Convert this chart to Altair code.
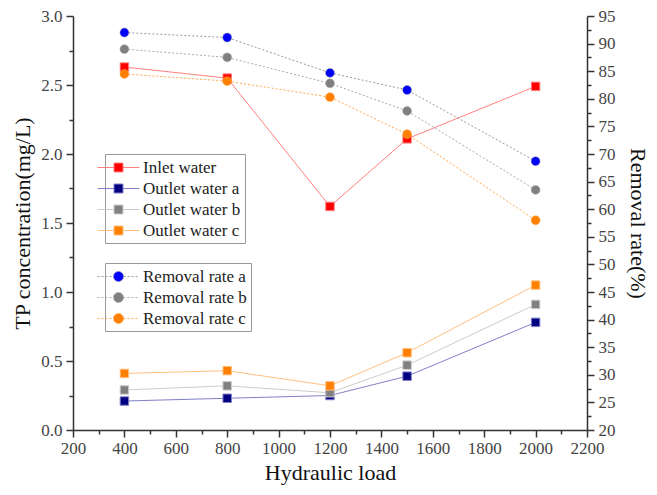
import altair as alt
import pandas as pd

# ---- data ----
loads = [400, 800, 1200, 1500, 2000]

conc_series = ["Inlet water", "Outlet water a", "Outlet water b", "Outlet water c"]
inlet = [2.63, 2.55, 1.62, 2.11, 2.49]
outlet_a = [0.21, 0.23, 0.25, 0.39, 0.78]
outlet_b = [0.29, 0.32, 0.27, 0.47, 0.91]
outlet_c = [0.41, 0.43, 0.32, 0.56, 1.05]

rem_series = ["Removal rate a", "Removal rate b", "Removal rate c"]
removal_a = [92.0, 91.1, 84.7, 81.6, 68.7]
removal_b = [89.0, 87.5, 82.8, 77.8, 63.5]
removal_c = [84.5, 83.2, 80.3, 73.6, 58.0]

conc_marker = ["#FF0000", "#000080", "#808080", "#FF8000"]
conc_line = ["#FF8080", "#8080C8", "#CCCCCC", "#FFC080"]
rem_marker = ["#0000FF", "#808080", "#FF8000"]
rem_line = ["#999999", "#AAAAAA", "#FFA850"]

conc_rows = []
for name, vals in zip(conc_series, [inlet, outlet_a, outlet_b, outlet_c]):
    for x, v in zip(loads, vals):
        conc_rows.append({"load": x, "value": v, "series": name})
conc_df = pd.DataFrame(conc_rows)

rem_rows = []
for name, vals in zip(rem_series, [removal_a, removal_b, removal_c]):
    for x, v in zip(loads, vals):
        rem_rows.append({"load": x, "value": v, "series": name})
rem_df = pd.DataFrame(rem_rows)

FONT = "Liberation Serif"
SQ_PATH = "M-2.33,0H-0.5M0.5,0H2.33M-0.5,-0.5H0.5V0.5H-0.5Z"
CI_PATH = "M-2.33,0H-0.556M0.556,0H2.33M0.556,0A0.556,0.556,0,1,1,-0.556,0A0.556,0.556,0,1,1,0.556,0Z"

axis_common = dict(
    domainColor="#333333", domainWidth=1.5, tickColor="#333333", tickWidth=1.5,
    labelFont=FONT, labelFontSize=17, labelColor="#444444", labelOverlap=False,
    labelFlush=False,
    titleFont=FONT, titleFontSize=22, titleFontWeight="normal", titleColor="#111111",
    grid=False,
)

x_enc = alt.X(
    "load:Q",
    scale=alt.Scale(domain=[200, 2200], nice=False),
    axis=alt.Axis(
        title="Hydraulic load",
        values=list(range(200, 2201, 100)),
        labelExpr="datum.value % 200 === 0 ? format(datum.value, 'd') : ''",
        tickSize={"condition": {"test": "datum.value % 200 === 0", "value": 7}, "value": 4},
        labelPadding=3, titlePadding=6,
        **axis_common,
    ),
)

y_left = alt.Y(
    "value:Q",
    scale=alt.Scale(domain=[0, 3], nice=False),
    axis=alt.Axis(
        title="TP concentration(mg/L)", orient="left",
        values=[i * 0.25 for i in range(13)],
        labelExpr="datum.value % 0.5 === 0 ? format(datum.value, '.1f') : ''",
        tickSize={"condition": {"test": "datum.value % 0.5 === 0", "value": 7}, "value": 4},
        labelPadding=4, titlePadding=6,
        **axis_common,
    ),
)

y_right = alt.Y(
    "value:Q",
    scale=alt.Scale(domain=[20, 95], nice=False),
    axis=alt.Axis(
        title="Removal rate(%)", orient="right",
        values=[20 + i * 2.5 for i in range(31)],
        labelExpr="datum.value % 5 === 0 ? format(datum.value, 'd') : ''",
        tickSize={"condition": {"test": "datum.value % 5 === 0", "value": 7}, "value": 4},
        labelPadding=4, titlePadding=10,
        **axis_common,
    ),
)

def legend_props(x, y, path):
    return dict(
        orient="none", legendX=x, legendY=y, title=None,
        symbolType=path, symbolSize=324, symbolStrokeWidth=1, symbolOpacity=1,
        labelFont=FONT, labelFontSize=17, labelColor="#222222",
        strokeColor="#999999", fillColor="white", padding=4,
        rowPadding=3, labelOffset=15,
    )

leg1 = legend_props(32, 138, SQ_PATH)
leg2 = dict(legend_props(32, 247, CI_PATH), symbolDash=[2, 2])

conc_lines = alt.Chart(conc_df).mark_line(strokeWidth=1).encode(
    x=x_enc, y=y_left,
    stroke=alt.Stroke("series:N", scale=alt.Scale(domain=conc_series, range=conc_line), legend=alt.Legend(**leg1)),
    detail="series:N",
)
conc_pts = alt.Chart(conc_df).mark_point(shape="square", filled=True, size=72, opacity=1, strokeWidth=1).encode(
    x=x_enc, y=y_left,
    color=alt.Color("series:N", scale=alt.Scale(domain=conc_series, range=conc_marker), legend=alt.Legend(**leg1)),
    stroke=alt.Stroke("series:N", scale=alt.Scale(domain=conc_series, range=conc_line), legend=alt.Legend(**leg1)),
)
conc_layer = alt.layer(conc_lines, conc_pts)

rem_lines = alt.Chart(rem_df).mark_line(strokeWidth=1, strokeDash=[2, 2]).encode(
    x=x_enc, y=y_right,
    stroke=alt.Stroke("series:N", scale=alt.Scale(domain=rem_series, range=rem_line), legend=alt.Legend(**leg2)),
    detail="series:N",
)
rem_pts = alt.Chart(rem_df).mark_point(shape="circle", filled=True, size=80, opacity=1, strokeWidth=0.5).encode(
    x=x_enc, y=y_right,
    color=alt.Color("series:N", scale=alt.Scale(domain=rem_series, range=rem_marker), legend=alt.Legend(**leg2)),
    stroke=alt.Stroke("series:N", scale=alt.Scale(domain=rem_series, range=rem_line), legend=alt.Legend(**leg2)),
)
rem_layer = alt.layer(rem_lines, rem_pts)

chart = alt.layer(conc_layer, rem_layer).resolve_scale(
    y="independent", color="independent", stroke="independent"
).properties(
    width=514, height=414,
    autosize=alt.AutoSizeParams(type="none"),
    padding={"left": 65, "top": 8, "right": 62, "bottom": 57},
    background="white",
).configure_view(strokeWidth=0)

chart.save("out.html", embed_options={"renderer": "svg", "actions": False})
